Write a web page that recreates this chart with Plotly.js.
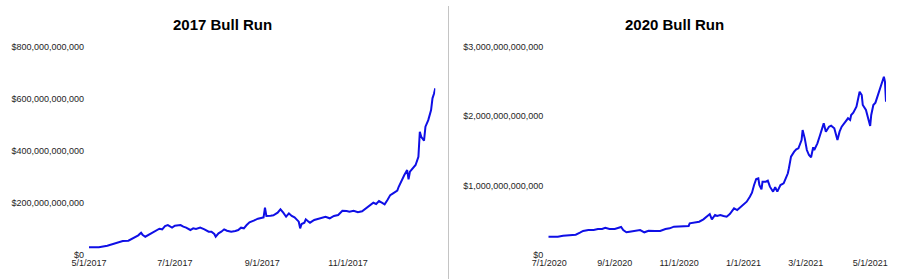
<!DOCTYPE html>
<html>
<head>
<meta charset="utf-8">
<script src="https://cdn.plot.ly/plotly-3.0.1.min.js"></script>
<style>html,body{margin:0;padding:0;background:#fff;}#chart{width:900px;height:279px;}</style>
</head>
<body>
<div id="chart"></div>
<script>
// ---- 2017 Bull Run (total market cap, billions USD) ----
const dates2017 = ['2017-05-01','2017-05-08','2017-05-14','2017-05-18','2017-05-22','2017-05-25','2017-05-29',
'2017-06-01','2017-06-05','2017-06-07','2017-06-08','2017-06-10','2017-06-12','2017-06-15','2017-06-18','2017-06-20','2017-06-22','2017-06-24','2017-06-26','2017-06-29',
'2017-07-01','2017-07-05','2017-07-07','2017-07-09','2017-07-12','2017-07-14','2017-07-16','2017-07-19','2017-07-22','2017-07-25','2017-07-27','2017-07-29','2017-07-30',
'2017-08-01','2017-08-03','2017-08-05','2017-08-07','2017-08-10','2017-08-13','2017-08-15','2017-08-17','2017-08-19','2017-08-21','2017-08-23','2017-08-26','2017-08-29',
'2017-09-01','2017-09-02','2017-09-03','2017-09-04','2017-09-07','2017-09-09','2017-09-12','2017-09-14','2017-09-16','2017-09-18','2017-09-20','2017-09-22','2017-09-24','2017-09-27','2017-09-28','2017-09-29',
'2017-10-01','2017-10-02','2017-10-04','2017-10-05','2017-10-08','2017-10-10','2017-10-13','2017-10-16','2017-10-19','2017-10-22','2017-10-25','2017-10-28','2017-10-31',
'2017-11-02','2017-11-05','2017-11-08','2017-11-11','2017-11-14','2017-11-17','2017-11-19','2017-11-21','2017-11-23','2017-11-25','2017-11-27','2017-11-29',
'2017-12-01','2017-12-03','2017-12-06','2017-12-07','2017-12-09','2017-12-11','2017-12-13','2017-12-14','2017-12-15','2017-12-17','2017-12-19','2017-12-21','2017-12-22','2017-12-23','2017-12-25','2017-12-26','2017-12-28','2017-12-30','2017-12-31',
'2018-01-01','2018-01-02'];
const mcap2017Bn = [29.6,29.6,35.7,42.2,49.9,53.8,55,
64,75.6,85.8,78,70.3,76.8,87,94.7,101,98.6,111,115,105,
112.6,115,108.7,105,96,102.4,99.8,105,98.6,89.6,89.6,80.6,70.3,
83.2,89.6,98.6,93.4,89.6,92,96,105,102.4,115,125.4,131.8,139.5,
143.4,144.6,181.8,149.8,151,152.3,162.4,175.5,162.4,147,160,149.8,144.6,128,102.4,119,
124,137,128,124,134.4,137,141,147,141,150,153.6,170,169,
166,170,164,167.8,179,192,200.8,196,207,200.8,194.7,211,
230,237,247,262,288,307,326,290.7,320,333,345.6,377.5,473.5,454,439,492.7,518,556.8,601.7,
618,640];

// ---- 2020 Bull Run (total market cap, trillions USD) ----
const dates2020 = ['2020-06-30','2020-07-05','2020-07-09','2020-07-14','2020-07-20','2020-07-26','2020-07-30',
'2020-08-02','2020-08-07','2020-08-12','2020-08-16','2020-08-20','2020-08-23','2020-08-27',
'2020-09-01','2020-09-07','2020-09-09','2020-09-12','2020-09-15','2020-09-20','2020-09-25','2020-09-29',
'2020-10-03','2020-10-09','2020-10-14','2020-10-19','2020-10-23','2020-10-27','2020-10-31',
'2020-11-05','2020-11-10','2020-11-11','2020-11-16','2020-11-20','2020-11-24','2020-11-27','2020-11-30',
'2020-12-02','2020-12-05','2020-12-07','2020-12-10','2020-12-13','2020-12-16','2020-12-19','2020-12-23','2020-12-26','2020-12-29',
'2021-01-01','2021-01-04','2021-01-07','2021-01-09','2021-01-11','2021-01-13','2021-01-15','2021-01-16','2021-01-18','2021-01-19','2021-01-22','2021-01-24','2021-01-26','2021-01-29','2021-01-31',
'2021-02-02','2021-02-05','2021-02-08','2021-02-10','2021-02-12','2021-02-13','2021-02-15','2021-02-18','2021-02-20','2021-02-22','2021-02-25','2021-02-26','2021-02-28',
'2021-03-02','2021-03-04','2021-03-06','2021-03-08','2021-03-09','2021-03-12','2021-03-14','2021-03-16','2021-03-18','2021-03-20','2021-03-23','2021-03-25','2021-03-28','2021-03-31',
'2021-04-02','2021-04-04','2021-04-08','2021-04-10','2021-04-12','2021-04-13','2021-04-15','2021-04-18','2021-04-20','2021-04-21','2021-04-23','2021-04-24','2021-04-27','2021-04-29',
'2021-05-01','2021-05-02','2021-05-04','2021-05-06','2021-05-08','2021-05-09','2021-05-11','2021-05-12','2021-05-14','2021-05-15','2021-05-16'];
const mcap2020Tn = [0.264,0.259,0.264,0.278,0.284,0.292,0.321,
0.346,0.360,0.360,0.374,0.374,0.393,0.374,
0.374,0.403,0.360,0.327,0.336,0.350,0.360,0.327,
0.350,0.346,0.346,0.374,0.384,0.408,0.408,
0.408,0.418,0.456,0.471,0.480,0.514,0.552,0.590,
0.514,0.576,0.562,0.576,0.562,0.552,0.590,0.672,0.648,0.687,
0.730,0.768,0.840,0.897,1.008,1.095,1.105,1.008,0.946,1.056,1.056,1.070,0.984,0.912,0.975,
0.912,1.008,1.032,1.105,1.177,1.249,1.416,1.488,1.522,1.536,1.656,1.800,1.680,
1.512,1.440,1.407,1.551,1.512,1.608,1.704,1.800,1.896,1.776,1.848,1.862,1.824,1.656,
1.776,1.848,1.920,1.969,1.944,2.016,2.050,2.136,2.280,2.352,2.304,2.160,2.088,1.969,
1.858,2.016,2.160,2.194,2.290,2.352,2.448,2.473,2.568,2.496,2.208];

// ---- tick labels ----
const xTicks2017 = ['2017-05-01','2017-07-01','2017-09-01','2017-11-01'];
const xLabels2017 = ['5/1/2017','7/1/2017','9/1/2017','11/1/2017'];
const yTicks2017 = [0,200e9,400e9,600e9,800e9];
const yLabels2017 = ['$0','$200,000,000,000','$400,000,000,000','$600,000,000,000','$800,000,000,000'];
const xTicks2020 = ['2020-07-01','2020-09-01','2020-11-01','2021-01-01','2021-03-01','2021-05-01'];
const xLabels2020 = ['7/1/2020','9/1/2020','11/1/2020','1/1/2021','3/1/2021','5/1/2021'];
const yTicks2020 = [0,1e12,2e12,3e12];
const yLabels2020 = ['$0','$1,000,000,000,000','$2,000,000,000,000','$3,000,000,000,000'];
const titles = ['2017 Bull Run','2020 Bull Run'];

const W = 900, H = 279;
const lineStyle = {color:'#0f0fe6', width:2};

const traces = [
  {x: dates2017, y: mcap2017Bn.map(v => v*1e9), type:'scatter', mode:'lines', line: lineStyle, xaxis:'x', yaxis:'y', hoverinfo:'skip'},
  {x: dates2020, y: mcap2020Tn.map(v => v*1e12), type:'scatter', mode:'lines', line: lineStyle, xaxis:'x2', yaxis:'y2', hoverinfo:'skip'}
];

const xCommon = {type:'date', showgrid:false, zeroline:false, showline:false, ticks:'', tickangle:0,
  tickfont:{size:9, color:'#1e1e1e'}, ticklabelstandoff:1, fixedrange:true};
const yCommon = {showgrid:false, zeroline:false, showline:false, ticks:'',
  tickfont:{size:9, color:'#1e1e1e'}, ticklabelstandoff:4, fixedrange:true};
const yDom = [(H-255)/H, (H-46.7)/H];

const layout = {
  width: W, height: H,
  margin: {l:0, r:0, t:0, b:0, pad:0},
  paper_bgcolor:'#ffffff', plot_bgcolor:'#ffffff',
  showlegend:false,
  font:{family:'"Liberation Sans", Arial, sans-serif', size:9, color:'#1e1e1e'},
  xaxis: Object.assign({}, xCommon, {domain:[89/W, 435.3/W], range:['2017-05-01','2018-01-02'],
    tickvals:xTicks2017, ticktext:xLabels2017, anchor:'y'}),
  yaxis: Object.assign({}, yCommon, {domain:yDom, range:[0,800e9], tickvals:yTicks2017, ticktext:yLabels2017, anchor:'x'}),
  xaxis2: Object.assign({}, xCommon, {domain:[548.3/W, 886/W], range:['2020-06-30','2021-05-16'],
    tickvals:xTicks2020, ticktext:xLabels2020, anchor:'y2'}),
  yaxis2: Object.assign({}, yCommon, {domain:yDom, range:[0,3e12], tickvals:yTicks2020, ticktext:yLabels2020, anchor:'x2'}),
  annotations: [
    {text:'<b>'+titles[0]+'</b>', xref:'paper', yref:'paper', x:222.5/W, y:(H-25)/H, xanchor:'center', yanchor:'middle', showarrow:false, font:{size:15, color:'#000'}},
    {text:'<b>'+titles[1]+'</b>', xref:'paper', yref:'paper', x:674.5/W, y:(H-25)/H, xanchor:'center', yanchor:'middle', showarrow:false, font:{size:15, color:'#000'}}
  ],
  shapes: [
    {type:'line', xref:'paper', yref:'paper', x0:448.5/W, x1:448.5/W, y0:0, y1:(H-6)/H, line:{color:'#c4c4c4', width:1}}
  ]
};

Plotly.newPlot('chart', traces, layout, {staticPlot:true, displayModeBar:false});
</script>
</body>
</html>
